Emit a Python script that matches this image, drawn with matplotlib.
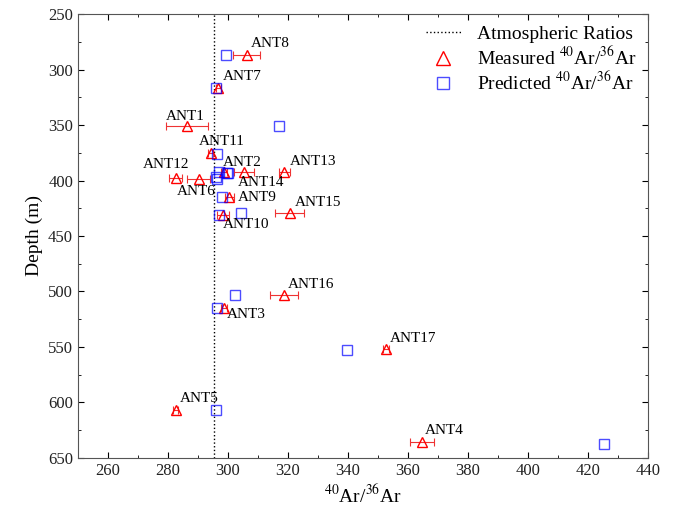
import numpy as np
import matplotlib.pyplot as plt

plt.rcParams['font.family'] = ['Liberation Serif', 'DejaVu Serif']
plt.rcParams['mathtext.fontset'] = 'stix'

samples = ['ANT1', 'ANT2', 'ANT3', 'ANT4', 'ANT5', 'ANT6', 'ANT7', 'ANT8', 'ANT9',
           'ANT10', 'ANT11', 'ANT12', 'ANT13', 'ANT14', 'ANT15', 'ANT16', 'ANT17']
depth = [351, 392.5, 515, 636, 606.5, 398.6, 317, 286.5, 415,
         431, 375.5, 397.5, 392.5, 392.5, 429.5, 503.5, 551.6]
measured = [286.4, 305.4, 298.7, 364.6, 282.6, 290.2, 296.8, 306.3, 300.4,
            298.2, 294.3, 282.6, 318.8, 298.8, 320.6, 318.6, 352.7]
measured_err = [7.0, 3.4, 1.0, 4.0, 0.8, 3.7, 0.8, 4.5, 1.5,
                2.0, 0.8, 2.1, 1.8, 1.0, 4.9, 4.6, 1.0]
pred_depth = [351, 393, 515, 637, 606.5, 398.2, 317, 287, 415,
              431.5, 376, 396.5, 392, 393, 429.5, 503.6, 552.4]
predicted = [317.0, 299.9, 296.2, 425.3, 296.0, 296.2, 296.1, 299.4, 298.0,
             297.0, 296.4, 295.9, 297.1, 299.6, 304.3, 302.3, 339.6]
atm_ratio = 295.5

# label anchor (left, center) in data units
label_x = [279.3, 298.3, 299.6, 365.7, 284.0, 282.9, 298.3, 307.7, 303.3,
           298.3, 290.3, 271.6, 320.7, 303.2, 322.3, 320.0, 354.0]
label_y = [342.3, 384.0, 520.8, 624.9, 596.4, 409.6, 306.1, 277.0, 415.0,
           439.6, 364.9, 385.8, 382.6, 402.0, 419.5, 493.6, 542.2]

fig = plt.figure(figsize=(6.74, 5.15), dpi=100)
ax = fig.add_axes([0.1157, 0.1107, 0.8457, 0.8621])

ax.axvline(atm_ratio, color='black', linestyle=':', linewidth=1.0,
           label='Atmospheric Ratios')
ax.errorbar(measured, depth, xerr=measured_err, fmt='none', ecolor='#ee3333',
            elinewidth=0.8, capsize=3, capthick=0.8)
ax.plot(measured, depth, linestyle='none', marker='^', markersize=7,
        markerfacecolor='none', markeredgecolor='red', markeredgewidth=1.0,
        label='Measured $^{40}$Ar/$^{36}$Ar')
ax.plot(predicted, pred_depth, linestyle='none', marker='s', markersize=6.5,
        markerfacecolor='none', markeredgecolor='blue', markeredgewidth=1.0,
        alpha=0.7, label='Predicted $^{40}$Ar/$^{36}$Ar')

for name, lx, ly in zip(samples, label_x, label_y):
    ax.text(lx, ly, name, fontsize=11, ha='left', va='center')

ax.set_xlim(250, 440)
ax.set_ylim(650, 250)
ax.set_xticks(np.arange(260, 441, 20))
ax.set_xticks(np.arange(250, 441, 10), minor=True)
ax.set_yticks(np.arange(250, 651, 50))
ax.set_yticks(np.arange(250, 651, 25), minor=True)
ax.tick_params(which='both', direction='in', top=True, right=True, labelsize=12,
               labelcolor='#222222')
ax.tick_params(which='major', length=4)
ax.tick_params(which='minor', length=2)
for s in ax.spines.values():
    s.set_color('#555555')

ax.set_xlabel('$^{40}$Ar/$^{36}$Ar', fontsize=14, labelpad=4)
ax.set_ylabel('Depth (m)', fontsize=14)

ax.legend(loc='upper right', frameon=False, fontsize=14, handlelength=1.8,
          borderaxespad=0.2, labelspacing=0.15, handletextpad=0.8,
          markerscale=1.4)

fig.savefig('out.png', dpi=100)
